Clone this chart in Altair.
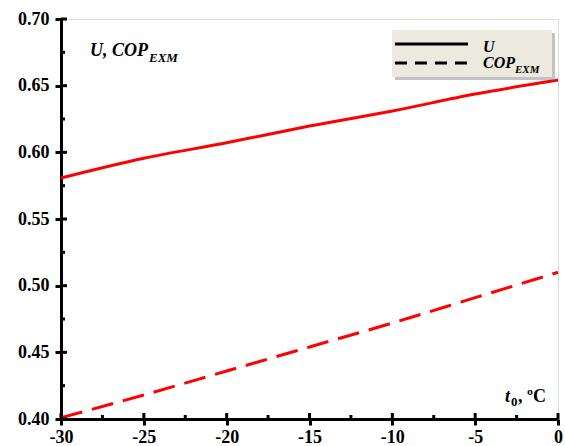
import altair as alt
import pandas as pd

# data
t0 = [-30, -25, -20, -15, -10, -5, 0]
U = [0.5807, 0.5955, 0.6072, 0.6197, 0.6310, 0.6437, 0.6542]
COP_EXM = [0.401, 0.418, 0.436, 0.454, 0.472, 0.491, 0.510]

x_major = [-30, -25, -20, -15, -10, -5, 0]
x_minor = [-27.5, -22.5, -17.5, -12.5, -7.5, -2.5]
y_major = [0.40, 0.45, 0.50, 0.55, 0.60, 0.65, 0.70]
y_minor = [0.425, 0.475, 0.525, 0.575, 0.625, 0.675]

FONT = "'Liberation Serif', 'Times New Roman', 'DejaVu Serif', serif"
W, H = 497, 400

df = pd.DataFrame({"t": t0, "U": U, "COP": COP_EXM})
one = pd.DataFrame({"a": [0]})

xs = alt.Scale(domain=[-30, 0], nice=False, zero=False)
ys = alt.Scale(domain=[0.40, 0.70], nice=False, zero=False)

xaxis = alt.Axis(values=x_major, labelExpr="'' + datum.value", title=None, labelFont=FONT, labelFontSize=18,
                 labelFontWeight="bold", labelColor="black", domainColor="black", domainWidth=3,
                 tickColor="black", tickWidth=3, tickSize=6, labelPadding=3, grid=False,
                 labelFlush=False, labelOverlap=False)
yaxis = alt.Axis(values=y_major, format=".2f", title=None, labelFont=FONT, labelFontSize=18,
                 labelFontWeight="bold", labelColor="black", domainColor="black", domainWidth=3,
                 tickColor="black", tickWidth=3, tickSize=6, labelPadding=6, grid=False,
                 labelFlush=False, labelOverlap=False)

base = alt.Chart(df)
u_line = base.mark_line(color="#ff0000", strokeWidth=3, interpolate="monotone").encode(
    x=alt.X("t:Q", scale=xs, axis=xaxis), y=alt.Y("U:Q", scale=ys, axis=yaxis))
cop_line = base.mark_line(color="#ff0000", strokeWidth=3, strokeDash=[22, 10], interpolate="monotone").encode(
    x=alt.X("t:Q", scale=xs), y=alt.Y("COP:Q", scale=ys))

# inside ticks
xmaj_df = pd.DataFrame({"v": x_major})
xmin_df = pd.DataFrame({"v": x_minor})
ymaj_df = pd.DataFrame({"v": y_major})
ymin_df = pd.DataFrame({"v": y_minor})
tx_maj = alt.Chart(xmaj_df).mark_rule(color="black", strokeWidth=3).encode(
    x=alt.X("v:Q", scale=xs), y=alt.value(H), y2=alt.value(H - 6))
tx_min = alt.Chart(xmin_df).mark_rule(color="black", strokeWidth=3).encode(
    x=alt.X("v:Q", scale=xs), y=alt.value(H), y2=alt.value(H - 4))
ty_maj = alt.Chart(ymaj_df).mark_rule(color="black", strokeWidth=3).encode(
    y=alt.Y("v:Q", scale=ys), x=alt.value(0), x2=alt.value(6))
ty_min = alt.Chart(ymin_df).mark_rule(color="black", strokeWidth=3).encode(
    y=alt.Y("v:Q", scale=ys), x=alt.value(0), x2=alt.value(4))

def txt(s, x, y, size, style="normal", weight="bold"):
    return alt.Chart(one).mark_text(text=s, font=FONT, fontSize=size, fontStyle=style,
                                    fontWeight=weight, align="left", baseline="alphabetic",
                                    color="black").encode(x=alt.value(x), y=alt.value(y))

# in-plot titles
t1 = txt("U, COP", 29, 37, 18, "italic")
t1s = txt("EXM", 88, 43, 13, "italic")
t2 = txt("t", 444, 383, 18, "italic")
t2s = txt("0", 450, 387, 13)
t2b = txt(", ºC", 457, 383, 18)

# legend
shadow = alt.Chart(one).mark_rect(color="#9a9a9a", opacity=0.6).encode(
    x=alt.value(334), x2=alt.value(494), y=alt.value(14), y2=alt.value(61))
box = alt.Chart(one).mark_rect(color="#ECE9DF").encode(
    x=alt.value(331), x2=alt.value(491), y=alt.value(11), y2=alt.value(58))
leg1 = alt.Chart(one).mark_rule(color="black", strokeWidth=3).encode(
    x=alt.value(334), x2=alt.value(407), y=alt.value(25))
leg2 = alt.Chart(one).mark_rule(color="black", strokeWidth=3, strokeDash=[12, 8]).encode(
    x=alt.value(334), x2=alt.value(407), y=alt.value(44))
l1 = txt("U", 422, 33, 16, "italic")
l2 = txt("COP", 422, 49, 16, "italic")
l2s = txt("EXM", 454, 54, 11, "italic")

chart = alt.layer(
    u_line, cop_line, tx_maj, tx_min, ty_maj, ty_min,
    t1, t1s, t2, t2s, t2b, shadow, box, leg1, leg2, l1, l2, l2s
).properties(
    width=W, height=H,
    autosize=alt.AutoSizeParams(type="none"),
    padding={"left": 61, "top": 19, "right": 7, "bottom": 27},
).configure_view(stroke="black", strokeWidth=3).configure(background="white")

chart.save("out.html", embed_options={"renderer": "svg", "actions": False})
